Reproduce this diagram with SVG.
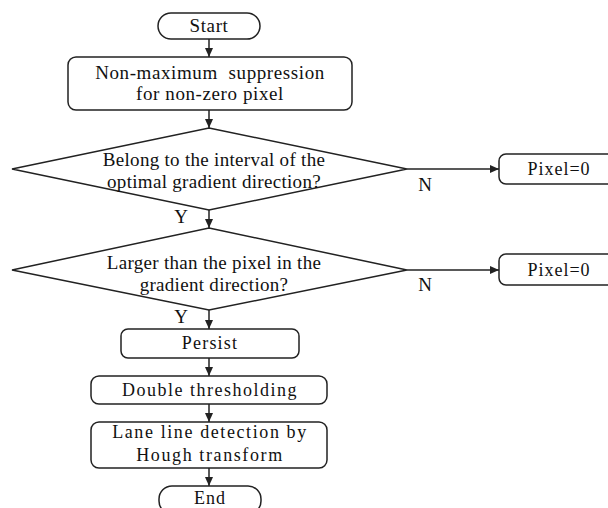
<svg xmlns="http://www.w3.org/2000/svg" width="608" height="508" viewBox="0 0 608 508">
<defs>
<style>
.s{fill:#fff;stroke:#222;stroke-width:1.5}
.c{fill:none;stroke:#222;stroke-width:1.5}
.t{font-family:"Liberation Serif","Times New Roman",serif;font-size:19px;fill:#111;text-anchor:middle}
.u{font-family:"Liberation Serif","Times New Roman",serif;font-size:18px;fill:#111;text-anchor:middle;letter-spacing:1.5px}
</style>
<marker id="a" markerUnits="userSpaceOnUse" markerWidth="9" markerHeight="8" refX="9" refY="4" orient="auto">
<path d="M0,0 L9,4 L0,8 z" fill="#222"/>
</marker>
</defs>
<g id="connectors">
<line class="c" x1="209" y1="39" x2="209" y2="57" marker-end="url(#a)"/>
<line class="c" x1="209" y1="110" x2="209" y2="128" marker-end="url(#a)"/>
<line class="c" x1="209" y1="210" x2="209" y2="228" marker-end="url(#a)"/>
<line class="c" x1="209" y1="310" x2="209" y2="329" marker-end="url(#a)"/>
<line class="c" x1="209" y1="358" x2="209" y2="376" marker-end="url(#a)"/>
<line class="c" x1="209" y1="404" x2="209" y2="422" marker-end="url(#a)"/>
<line class="c" x1="209" y1="468" x2="209" y2="486" marker-end="url(#a)"/>
<line class="c" x1="407" y1="169" x2="499" y2="169" marker-end="url(#a)"/>
<line class="c" x1="407" y1="270" x2="499" y2="270" marker-end="url(#a)"/>
<text class="t" x="181" y="223">Y</text>
<text class="t" x="181" y="323">Y</text>
<text class="t" x="425" y="191">N</text>
<text class="t" x="425" y="291">N</text>
</g>
<g id="start">
<rect class="s" x="158" y="13" width="102" height="26" rx="13"/>
<text class="t" x="209" y="32" style="letter-spacing:0.6px">Start</text>
</g>
<g id="nms">
<rect class="s" x="68" y="57" width="284" height="53" rx="8"/>
<text class="t" x="210" y="79" style="letter-spacing:0.6px" xml:space="preserve">Non-maximum  suppression</text>
<text class="t" x="210" y="100" style="letter-spacing:0.6px">for non-zero pixel</text>
</g>
<g id="d1">
<polygon class="s" points="209,128 407,169 209,210 12,169"/>
<text class="t" x="214" y="166" style="letter-spacing:0.3px">Belong to the interval of the</text>
<text class="t" x="214" y="188" style="letter-spacing:0.3px">optimal gradient direction?</text>
</g>
<g id="p1">
<rect class="s" x="499" y="154" width="116" height="30" rx="7"/>
<text class="u" x="559" y="175" style="letter-spacing:1px">Pixel=0</text>
</g>
<g id="d2">
<polygon class="s" points="209,228 407,270 209,310 12,270"/>
<text class="t" x="214" y="269" style="letter-spacing:0.3px">Larger than the pixel in the</text>
<text class="t" x="214" y="291" style="letter-spacing:0.3px">gradient direction?</text>
</g>
<g id="p2">
<rect class="s" x="499" y="254" width="116" height="31" rx="7"/>
<text class="u" x="559" y="276" style="letter-spacing:1px">Pixel=0</text>
</g>
<g id="persist">
<rect class="s" x="121" y="329" width="178" height="29" rx="7"/>
<text class="u" x="210" y="349" style="letter-spacing:1.2px">Persist</text>
</g>
<g id="double">
<rect class="s" x="91" y="376" width="236" height="28" rx="8"/>
<text class="u" x="210" y="396">Double thresholding</text>
</g>
<g id="lane">
<rect class="s" x="91" y="422" width="236" height="46" rx="8"/>
<text class="u" x="210" y="438" style="letter-spacing:1.6px">Lane line detection by</text>
<text class="u" x="210" y="461" style="letter-spacing:1.6px">Hough transform</text>
</g>
<g id="end">
<rect class="s" x="159" y="486" width="102" height="28" rx="13"/>
<text class="u" x="210" y="504" style="letter-spacing:1px">End</text>
</g>
</svg>
